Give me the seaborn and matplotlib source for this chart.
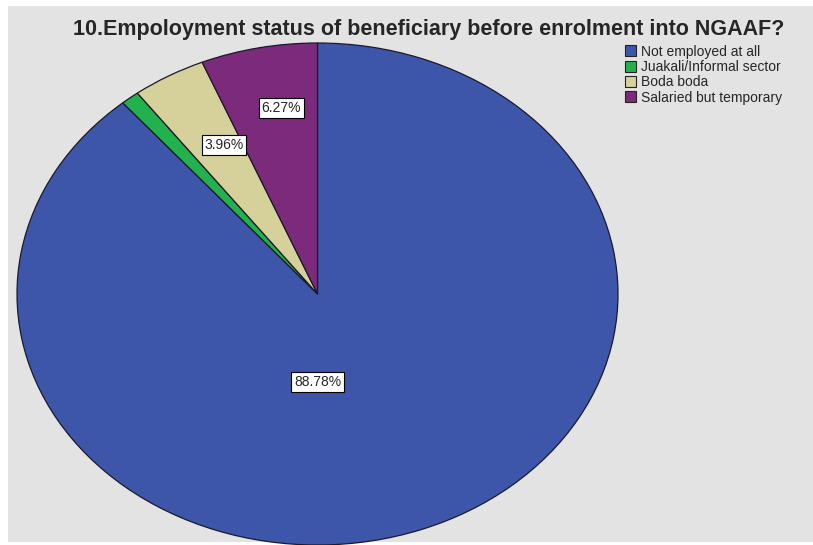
import numpy as np
import pandas as pd
import matplotlib
matplotlib.use("Agg")
import matplotlib.pyplot as plt
import seaborn as sns
from matplotlib.patches import Rectangle

# data
categories = ["Not employed at all", "Juakali/Informal sector", "Boda boda", "Salaried but temporary"]
percents = [88.78, 0.99, 3.96, 6.27]
slice_colors = ["#3d56aa", "#22b14c", "#d6d09a", "#7b2a7c"]
label_dist = [0.35, 0.7, 0.67, 0.75]

sns.set_style("white")
plt.rcParams['font.family'] = ['Liberation Sans', 'DejaVu Sans']

fig = plt.figure(figsize=(8.13, 5.45), dpi=100)
fig.patch.set_facecolor("white")
# grey SPSS style chart area
fig.patches.append(Rectangle((8 / 813, 3 / 545), 1 - 8 / 813, 1 - 9 / 545,
                             transform=fig.transFigure, facecolor="#e3e3e3",
                             edgecolor="none", zorder=-10))

ax = fig.add_axes([17 / 813, 0 / 545, 601 / 813, 502 / 545])
ax.set_facecolor("none")

def fmt(p):
    return "%.2f%%" % p if p >= 2 else ""

wedges, texts, autotexts = ax.pie(percents, colors=sns.color_palette(slice_colors),
                                  startangle=90, counterclock=False, radius=1,
                                  autopct=fmt, pctdistance=0.7,
                                  wedgeprops=dict(edgecolor="#1a1a2a", linewidth=0.9),
                                  textprops=dict(fontsize=10))
for w, t, d in zip(wedges, autotexts, label_dist):
    w.set_clip_on(False)
    if t.get_text():
        t.set_bbox(dict(boxstyle="square,pad=0.2", facecolor="white", edgecolor="black", linewidth=0.8))
    mid = np.deg2rad((w.theta1 + w.theta2) / 2 - 2)
    t.set_position((d * np.cos(mid), d * np.sin(mid)))
# biggest slice label sits straight under the centre, like SPSS
autotexts[0].set_position((0, -label_dist[0]))

ax.set_xlim(-1, 1)
ax.set_ylim(-1, 1)
ax.set_aspect("auto")
ax.axis("off")

fig.text(429 / 813, 1 - 30 / 545, "10.Empoloyment status of beneficiary before enrolment into NGAAF?",
         ha="center", va="center", fontsize=15.5, fontweight="bold")

handles = [plt.Rectangle((0, 0), 1, 1, facecolor=c, edgecolor="#222222", linewidth=0.8) for c in slice_colors]
fig.legend(handles, categories, loc="upper left", bbox_to_anchor=(619 / 813, 1 - 39 / 545),
           frameon=False, fontsize=10, handlelength=0.85, handleheight=0.85,
           handletextpad=0.3, labelspacing=0.1, borderaxespad=0)

fig.savefig("out.png", dpi=100)
